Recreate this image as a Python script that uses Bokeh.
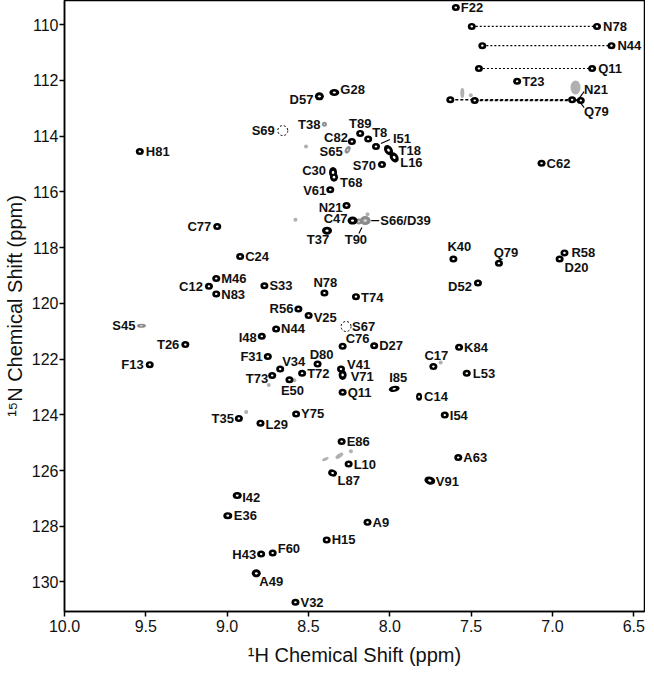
import math
from bokeh.plotting import figure
from bokeh.models import Range1d, ColumnDataSource, FixedTicker, PrintfTickFormatter
from bokeh.embed import file_html
from bokeh.resources import INLINE
from bokeh.core.properties import value

# ---------------- data (ppm) ----------------
x_ticks = [10.0, 9.5, 9.0, 8.5, 8.0, 7.5, 7.0, 6.5]
y_ticks = [110, 112, 114, 116, 118, 120, 122, 124, 126, 128, 130]

peak_names = ["F22", "H81", "D57", "G28", "T38", "S69", "T89", "C82", "T8", "I51",
              "T18", "L16", "S65", "S70", "C62", "T23", "C30", "T68", "V61", "N21",
              "C47", "S66/D39", "T90", "T37", "C77", "C24", "M46", "C12", "N83", "S33",
              "N78", "R56", "V25", "S45", "N44", "I48", "T26", "F13", "F31", "V34",
              "T73", "E50", "T72", "D80", "S67", "C76", "D27", "V41", "V71", "Q11",
              "I85", "Y75", "T35", "L29", "K40", "Q79", "R58", "D20", "D52", "T74",
              "K84", "C17", "L53", "C14", "I54", "E86", "L10", "L87", "A63", "V91",
              "A9", "H15", "I42", "E36", "H43", "F60", "A49", "V32"]
peak_h = [7.594, 9.537, 8.433, 8.341, 8.402, 8.658, 8.182, 8.233, 8.133, 8.085,
          8.008, 7.973, 8.259, 8.048, 7.067, 7.217, 8.349, 8.343, 8.366, 8.266,
          8.229, 8.151, 8.190, 8.386, 9.061, 8.920, 9.067, 9.112, 9.067, 8.771,
          8.402, 8.562, 8.499, 9.527, 8.699, 8.787, 9.257, 9.476, 8.750, 8.674,
          8.723, 8.617, 8.539, 8.444, 8.269, 8.290, 8.096, 8.300, 8.290, 8.290,
          7.973, 8.576, 8.928, 8.795, 7.609, 7.329, 6.926, 6.956, 7.458, 8.208,
          7.574, 7.732, 7.527, 7.820, 7.662, 8.296, 8.253, 8.352, 7.579, 7.754,
          8.137, 8.388, 8.938, 8.996, 8.791, 8.720, 8.821, 8.580]
peak_n = [109.38, 114.55, 112.57, 112.43, 113.57, 113.80, 113.90, 114.19, 114.10, 114.37,
          114.50, 114.76, 114.49, 115.02, 114.97, 112.03, 115.30, 115.47, 115.92, 116.49,
          117.03, 117.03, 117.06, 117.39, 117.24, 118.32, 119.11, 119.39, 119.66, 119.37,
          119.63, 120.20, 120.44, 120.80, 120.92, 121.18, 121.48, 122.20, 121.91, 122.36,
          122.59, 122.74, 122.51, 122.18, 120.83, 121.54, 121.52, 122.36, 122.57, 123.19,
          123.07, 123.97, 124.13, 124.30, 118.41, 118.56, 118.19, 118.41, 119.27, 119.76,
          121.58, 122.27, 122.51, 123.35, 124.01, 124.96, 125.77, 126.09, 125.53, 126.36,
          127.86, 128.49, 126.90, 127.62, 129.00, 128.96, 129.69, 130.73]

weak_peaks = ["T38", "S65", "S45", "S66/D39", "T90"]
missing_peaks = ["S69", "S67"]

# side-chain NH2 pairs
sc_names = ["N78", "N44", "Q11", "N21", "Q79"]
sc_h_left = [7.496, 7.431, 7.452, 7.628, 7.478]
sc_h_right = [6.726, 6.637, 6.756, 6.879, 6.826]
sc_n = [110.06, 110.75, 111.57, 112.69, 112.72]

# unassigned weak peaks
extra_h = [8.515, 8.580, 7.554, 7.502, 6.858, 8.137, 8.587, 8.883, 8.310, 8.396, 8.239, 7.687, 8.744]
extra_n = [114.37, 117.00, 112.45, 112.53, 112.25, 116.80, 122.76, 123.90, 125.47, 125.59, 125.31, 122.12, 122.93]

# ---------------- layout / style ----------------
X0, X1 = 10.0, 6.434
Y0, Y1 = 131.06, 109.13
FW, FH = 580, 611
XS = FW / (X0 - X1)
YS = FH / (Y0 - Y1)
FONT = "Liberation Sans"

p = figure(frame_width=FW, frame_height=FH,
           x_range=Range1d(X0, X1), y_range=Range1d(Y0, Y1),
           output_backend="svg", toolbar_location=None,
           min_border_top=0, min_border_right=1, min_border_left=0, min_border_bottom=0,
           x_axis_label="\u00b9H Chemical Shift (ppm)",
           y_axis_label="\u00b9\u2075N Chemical Shift (ppm)")
p.grid.visible = False
p.outline_line_color = "black"
p.outline_line_width = 1.5
p.outline_line_alpha = 1.0
p.background_fill_color = "white"
p.border_fill_color = "white"

p.xaxis.ticker = FixedTicker(ticks=x_ticks)
p.yaxis.ticker = FixedTicker(ticks=y_ticks)
p.xaxis.formatter = PrintfTickFormatter(format="%.1f")
p.yaxis.formatter = PrintfTickFormatter(format="%d")
for ax in (p.xaxis, p.yaxis):
    ax.major_tick_out = 5
    ax.major_tick_in = 0
    ax.minor_tick_out = 0
    ax.minor_tick_in = 0
    ax.axis_line_width = 1.5
    ax.major_tick_line_width = 1.5
    ax.major_label_text_font = FONT
    ax.major_label_text_font_size = "16px"
    ax.major_label_text_color = "#111111"
    ax.axis_label_text_font = FONT
    ax.axis_label_text_font_size = "20px"
    ax.axis_label_text_font_style = "normal"
    ax.axis_label_text_color = "#111111"
p.xaxis.major_label_standoff = 3
p.xaxis.axis_label_standoff = 9
p.yaxis.major_label_standoff = 1
p.yaxis.axis_label_standoff = 3


def shift(h, n, dx, dy):
    return h - dx / XS, n + dy / YS


# dotted connectors of side-chain pairs
for i in range(len(sc_names)):
    heavy = i >= 3
    p.segment(x0=[sc_h_left[i]], y0=[sc_n[i]], x1=[sc_h_right[i]], y1=[sc_n[i]],
              line_color="black", line_width=1.5 if heavy else 1.1,
              line_dash="3 2" if heavy else "2 2")

# unassigned weak peaks
extra_shape = {2: (4, 10, 0), 4: (10, 14, 0), 8: (9, 4, 35), 9: (7, 3, 25)}
ex = dict(x=[], y=[], w=[], h=[], a=[])
for i, (hh, nn) in enumerate(zip(extra_h, extra_n)):
    w, hgt, ang = extra_shape.get(i, (4, 4, 0))
    ex["x"].append(hh); ex["y"].append(nn); ex["w"].append(w); ex["h"].append(hgt)
    ex["a"].append(math.radians(ang))
p.ellipse(x="x", y="y", width="w", height="h", angle="a", source=ColumnDataSource(ex),
          width_units="screen", height_units="screen",
          fill_color="#b0b0b0", line_color=None)

# assigned peaks: outer (width, height, angle) of the contour, screen px
shape = {"D57": (9, 8, 0), "G28": (10, 7, 0), "C30": (8, 11, 0), "T68": (8, 9, 0),
         "T18": (8, 11, 35), "L16": (8, 11, 35), "T37": (10, 8, 0), "C47": (10, 8, 0),
         "V71": (8, 10, 0), "V91": (11, 8, -15), "I85": (11, 6, 10), "C14": (6, 8, 0),
         "A49": (9, 8, 0), "E36": (9, 7, 0), "I42": (9, 7, 0), "L87": (9, 7, -20),
         "T38": (5, 5, 0), "S65": (5, 8, -30), "S45": (9, 4, 0), "S66/D39": (11, 9, 0),
         "T90": (6, 6, 0)}
strong = dict(x=[], y=[], w=[], h=[], a=[], wi=[], hi=[])
weak = dict(x=[], y=[], w=[], h=[], a=[], wi=[], hi=[])
miss = dict(x=[], y=[])


def add(d, hh, nn, w, hgt, ang):
    d["x"].append(hh); d["y"].append(nn); d["w"].append(w); d["h"].append(hgt)
    d["a"].append(math.radians(ang))
    d["wi"].append(max(w * 0.32, 1.0)); d["hi"].append(max(hgt * 0.3, 1.0))


for nm, hh, nn in zip(peak_names, peak_h, peak_n):
    if nm in missing_peaks:
        miss["x"].append(hh); miss["y"].append(nn)
        continue
    w, hgt, ang = shape.get(nm, (8, 7, 0))
    add(weak if nm in weak_peaks else strong, hh, nn, w, hgt, ang)
for i in range(len(sc_names)):
    for hh in (sc_h_left[i], sc_h_right[i]):
        add(strong, hh, sc_n[i], 8, 7, 0)

ws = ColumnDataSource(weak)
p.ellipse(x="x", y="y", width="w", height="h", angle="a", source=ws,
          width_units="screen", height_units="screen", fill_color="#8c8c8c", line_color=None)
p.ellipse(x="x", y="y", width="wi", height="hi", angle="a", source=ws,
          width_units="screen", height_units="screen", fill_color="#d8d8d8", line_color=None)
ss = ColumnDataSource(strong)
p.ellipse(x="x", y="y", width="w", height="h", angle="a", source=ss,
          width_units="screen", height_units="screen", fill_color="black", line_color=None)
p.ellipse(x="x", y="y", width="wi", height="hi", angle="a", source=ss,
          width_units="screen", height_units="screen", fill_color="white", line_color=None)
p.scatter(x="x", y="y", source=ColumnDataSource(miss), marker="circle", size=10,
          fill_color=None, line_color="black", line_width=1, line_dash="2 2")

# label placement (pixel offsets dx, dy from the peak, alignment)
R, L, C = "left", "right", "center"
lab_pos = {
    "F22": (5, 0, R), "H81": (6, 0, R), "D57": (-6, 3, L), "G28": (6, -3, R), "T38": (-4, 0, L),
    "S69": (-8, 0, L), "T89": (0, -10, C), "C82": (-4, -4, L), "T8": (4, -6, R), "I51": (17, -8, R),
    "T18": (10, 0, R), "L16": (6, 5, R), "S65": (-5, 2, L), "S70": (-6, 1, L), "C62": (5, 0, R),
    "T23": (5, 0, R), "C30": (-7, -2, L), "T68": (6, 5, R), "V61": (-4, 1, L), "N21": (-4, 2, L),
    "C47": (-5, -2, L), "S66/D39": (15, 0, R), "T90": (-3, 18, C), "T37": (-9, 9, C), "C77": (-6, 0, L),
    "C24": (5, 0, R), "M46": (5, 0, R), "C12": (-6, 0, L), "N83": (5, 1, R), "S33": (5, 0, R),
    "N78": (1, -11, C), "R56": (-5, 0, L), "V25": (5, 2, R), "S45": (-6, 0, L), "N44": (5, 0, R),
    "I48": (-5, 1, L), "T26": (-6, 0, L), "F13": (-6, 0, L), "F31": (-5, 0, L), "V34": (2, -8, R),
    "T73": (-4, 3, L), "E50": (3, 11, C), "T72": (5, 0, R), "D80": (4, -10, C), "S67": (6, 0, R),
    "C76": (3, -8, R), "D27": (5, 0, R), "V41": (6, -5, R), "V71": (8, 2, R), "Q11": (5, 0, R),
    "I85": (4, -11, C), "Y75": (5, 0, R), "T35": (-5, 0, L), "L29": (5, 1, R), "K40": (6, -13, C),
    "Q79": (7, -11, C), "R58": (7, 0, R), "D20": (5, 8, R), "D52": (-6, 3, L), "T74": (5, 1, R),
    "K84": (5, 0, R), "C17": (3, -11, C), "L53": (6, 0, R), "C14": (5, 0, R), "I54": (5, 0, R),
    "E86": (5, 0, R), "L10": (5, 0, R), "L87": (5, 7, R), "A63": (5, 0, R), "V91": (6, 1, R),
    "A9": (5, 0, R), "H15": (5, 0, R), "I42": (5, 2, R), "E36": (6, 0, R), "H43": (-5, 0, L),
    "F60": (5, -4, R), "A49": (3, 8, R), "V32": (5, 0, R),
}
sc_pos = {"N78": (6, 0, R), "N44": (6, 0, R), "Q11": (6, 0, R), "N21": (12, -10, R), "Q79": (12, 12, R)}

groups = {R: dict(x=[], y=[], t=[], dx=[], dy=[]),
          L: dict(x=[], y=[], t=[], dx=[], dy=[]),
          C: dict(x=[], y=[], t=[], dx=[], dy=[])}
for nm, hh, nn in zip(peak_names, peak_h, peak_n):
    dx, dy, al = lab_pos[nm]
    g = groups[al]
    g["x"].append(hh); g["y"].append(nn); g["t"].append(nm); g["dx"].append(dx); g["dy"].append(dy)
for i, nm in enumerate(sc_names):
    dx, dy, al = sc_pos[nm]
    hh = sc_h_right[3] if i >= 3 else sc_h_right[i]
    nn = sc_n[3] if i >= 3 else sc_n[i]
    g = groups[al]
    g["x"].append(hh); g["y"].append(nn); g["t"].append(nm); g["dx"].append(dx); g["dy"].append(dy)
for al, g in groups.items():
    p.text(x="x", y="y", text="t", x_offset="dx", y_offset="dy", source=ColumnDataSource(g),
           text_font=value(FONT), text_font_style="bold", text_font_size="13px",
           text_color="#111111", text_align=al, text_baseline="middle")

# leader lines (pixel offsets from the peak they point at)
leaders = [("I51", (5, -3), (14, -7)), ("S66/D39", (6, 0), (14, 0)), ("T90", (3, 6), (0, 12))]
idx = {nm: i for i, nm in enumerate(peak_names)}
for nm, a, b in leaders:
    hh, nn = peak_h[idx[nm]], peak_n[idx[nm]]
    xa, ya = shift(hh, nn, *a)
    xb, yb = shift(hh, nn, *b)
    p.line([xa, xb], [ya, yb], line_color="black", line_width=1.1)
hh, nn = sc_h_right[3], sc_n[3]
for a, b in [((4, 0), (6, 0)), ((6, 0), (12, -8)), ((6, 0), (12, 8))]:
    xa, ya = shift(hh, nn, *a)
    xb, yb = shift(hh, nn, *b)
    p.line([xa, xb], [ya, yb], line_color="black", line_width=1.1)

open("out.html", "w").write(file_html(p, INLINE))
